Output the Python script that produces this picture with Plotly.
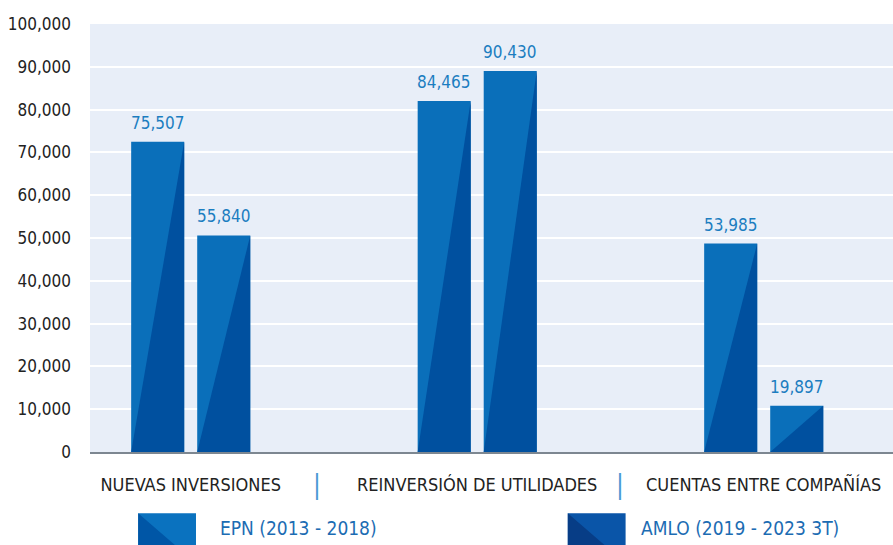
import plotly.graph_objects as go

# ---------------- data ----------------
categories = ["NUEVAS INVERSIONES", "REINVERSIÓN DE UTILIDADES", "CUENTAS ENTRE COMPAÑÍAS"]
series_names = ["EPN (2013 - 2018)", "AMLO (2019 - 2023 3T)"]
# bar heights as drawn in the picture
epn_heights = [72500, 82000, 48700]
amlo_heights = [50600, 89000, 10800]
# value labels printed above the bars
epn_labels = ["75,507", "84,465", "53,985"]
amlo_labels = ["55,840", "90,430", "19,897"]
y_tickvals = [0, 10000, 20000, 30000, 40000, 50000, 60000, 70000, 80000, 90000, 100000]

# ---------------- style ----------------
FONT = "DejaVu Sans Condensed, DejaVu Sans, sans-serif"
LIGHT = "#0A6FBA"
DARK = "#00509F"
LABEL_COLOR = "#1B7DC0"
BARGAP = 0.539
BARGROUPGAP = 0.197

fig = go.Figure()
heights = [epn_heights, amlo_heights]
labels = [epn_labels, amlo_labels]
for name, h in zip(series_names, heights):
    fig.add_trace(go.Bar(x=categories, y=h, name=name, marker=dict(color=LIGHT, line=dict(width=0)),
                         showlegend=False, hoverinfo="skip"))

# geometry of grouped bars (derived from bargap / bargroupgap)
group_w = 1 - BARGAP
slot = group_w / 2
bar_w = slot * (1 - BARGROUPGAP)
shapes = []
annotations = []
for j, (h, lab) in enumerate(zip(heights, labels)):
    for i, (v, t) in enumerate(zip(h, lab)):
        c = i + (j - 0.5) * slot
        l, r = c - bar_w / 2, c + bar_w / 2
        shapes.append(dict(type="path", xref="x", yref="y",
                           path=f"M {l},0 L {r},0 L {r},{v} Z",
                           fillcolor=DARK, line=dict(width=0), layer="above"))
        annotations.append(dict(x=c, y=v, xref="x", yref="y", text=t, showarrow=False,
                                yanchor="bottom", yshift=7,
                                font=dict(family=FONT, size=17, color=LABEL_COLOR)))

# separators between category labels
for sx in [0.44, 1.5]:
    annotations.append(dict(x=sx, y=-0.075, xref="x", yref="paper", text="|", showarrow=False,
                            yanchor="middle", font=dict(family=FONT, size=26, color="#4A9AD4")))

# custom legend (large two-tone icons)
legend_items = [
    dict(x0=0.06, text_x=0.16, base="#0A72BF", tri="#0056A6"),
    dict(x0=0.595, text_x=0.684, base="#0A55A8", tri="#073D86"),
]
for item, name in zip(legend_items, series_names):
    x0 = item["x0"]
    x1 = x0 + 0.072
    y0, y1 = -0.143, -0.26
    shapes.append(dict(type="rect", xref="paper", yref="paper", x0=x0, x1=x1, y0=y1, y1=y0,
                       fillcolor=item["base"], line=dict(width=0)))
    shapes.append(dict(type="path", xref="paper", yref="paper",
                       path=f"M {x0},{y0} L {x0},{y1} L {x1},{y1} Z",
                       fillcolor=item["tri"], line=dict(width=0)))
    annotations.append(dict(x=item["text_x"], y=-0.178, xref="paper", yref="paper", text=name,
                            showarrow=False, xanchor="left", yanchor="middle",
                            font=dict(family=FONT, size=19, color="#1C6CB3")))

fig.update_layout(
    width=893, height=545,
    margin=dict(l=90, r=0, t=24, b=93),
    paper_bgcolor="white",
    plot_bgcolor="#E8EEF8",
    barmode="group",
    bargap=BARGAP,
    bargroupgap=BARGROUPGAP,
    font=dict(family=FONT, size=16, color="#2A2A2A"),
    shapes=shapes,
    annotations=annotations,
    showlegend=False,
)
fig.update_xaxes(type="category", range=[-0.3515, 2.4513], showgrid=False,
                 showline=True, linecolor="#7D8791", linewidth=2,
                 ticks="", ticklabelstandoff=15,
                 tickfont=dict(family=FONT, size=18, color="#222222"))
fig.update_yaxes(range=[0, 100000], tickvals=y_tickvals, tickformat=",",
                 showgrid=True, gridcolor="white", gridwidth=2,
                 zeroline=False, ticks="", ticklabelstandoff=18,
                 tickfont=dict(family=FONT, size=17, color="#222222"))

fig.write_html("out.html", config={"displayModeBar": False},
               post_script="document.body.style.margin='0';document.body.style.overflow='hidden';")
